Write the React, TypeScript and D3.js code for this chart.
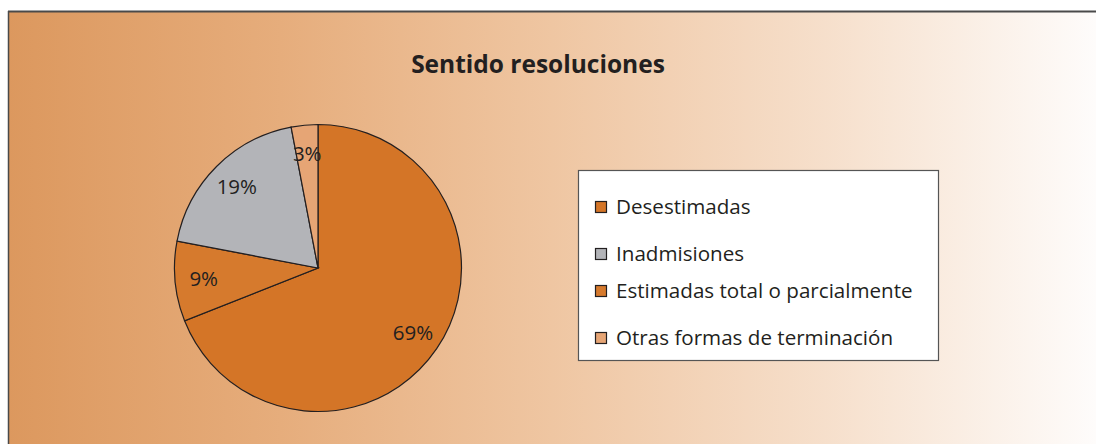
import React from "react";
import { pie, arc, PieArcDatum } from "d3";

// pie order (clockwise from 12 o'clock)
const sliceNames = ["Desestimadas", "Estimadas total o parcialmente", "Inadmisiones", "Otras formas de terminación"];
const sliceValues = [69, 9, 19, 3];
const sliceColors = ["#d47527", "#d67a2d", "#b3b4b8", "#e6a575"];

// legend order
const legendNames = ["Desestimadas", "Inadmisiones", "Estimadas total o parcialmente", "Otras formas de terminación"];
const legendColors = ["#d47527", "#b3b4b8", "#d67a2d", "#e6a575"];
const legendBaselines = [214, 261, 298, 345];

const title = "Sentido resoluciones";

type Slice = { name: string; value: number; color: string };

const slices: Slice[] = sliceNames.map((name, i) => ({
  name,
  value: sliceValues[i],
  color: sliceColors[i],
}));

const W = 1096;
const H = 444;
const cx = 318;
const cy = 268;
const R = 143.5;
const font = "'Open Sans', Lato, sans-serif";

const App = () => {
  const pieGen = pie<Slice>().value((d) => d.value).sort(null);
  const arcs = pieGen(slices);
  const arcGen = arc<PieArcDatum<Slice>>().innerRadius(0).outerRadius(R);
  const labelArc = arc<PieArcDatum<Slice>>().innerRadius(R * 0.8).outerRadius(R * 0.8);

  return (
    <svg width={W} height={H} style={{ position: "absolute", left: 0, top: 0 }}>
      <defs>
        <linearGradient id="bg" x1="0" x2="1" y1="0" y2="0">
          <stop offset="0" stopColor="#dc985e" />
          <stop offset="0.25" stopColor="#e6ad7c" />
          <stop offset="0.5" stopColor="#efc6a2" />
          <stop offset="0.75" stopColor="#f6dfcb" />
          <stop offset="1" stopColor="#fefcfb" />
        </linearGradient>
      </defs>
      <rect x={0} y={0} width={W} height={H} fill="#ffffff" />
      <rect x={8} y={12} width={W - 8} height={H - 12} fill="url(#bg)" />
      <line x1={8} x2={W} y1={11.5} y2={11.5} stroke="#4a4a4a" strokeWidth={2} />
      <line x1={8.5} x2={8.5} y1={11} y2={H} stroke="#4a4a4a" strokeWidth={1.5} />

      <text
        x={538}
        y={73}
        textAnchor="middle"
        fontFamily={font}
        fontWeight="bold"
        fontSize={24.5}
        fill="#231f20"
      >
        {title}
      </text>

      <g transform={`translate(${cx},${cy})`}>
        {arcs.map((a) => (
          <path key={a.data.name} d={arcGen(a) || ""} fill={a.data.color} stroke="#231f20" strokeWidth={1.2} />
        ))}
        {arcs.map((a) => {
          const [lx, ly] = labelArc.centroid(a);
          return (
            <text
              key={"l" + a.data.name}
              x={lx}
              y={ly}
              dy="0.35em"
              textAnchor="middle"
              fontFamily={font}
              fontSize={20.5}
              fill="#231f20"
            >
              {`${a.data.value}%`}
            </text>
          );
        })}
      </g>

      <rect x={578.5} y={170.5} width={360} height={190} fill="#ffffff" stroke="#555555" strokeWidth={1.2} />
      {legendNames.map((name, i) => (
        <g key={name}>
          <rect
            x={595.5}
            y={legendBaselines[i] - 12.5}
            width={11}
            height={11}
            fill={legendColors[i]}
            stroke="#231f20"
            strokeWidth={1.2}
          />
          <text x={616} y={legendBaselines[i]} fontFamily={font} fontSize={20.6} fill="#231f20">
            {name}
          </text>
        </g>
      ))}
    </svg>
  );
};

export default App;
